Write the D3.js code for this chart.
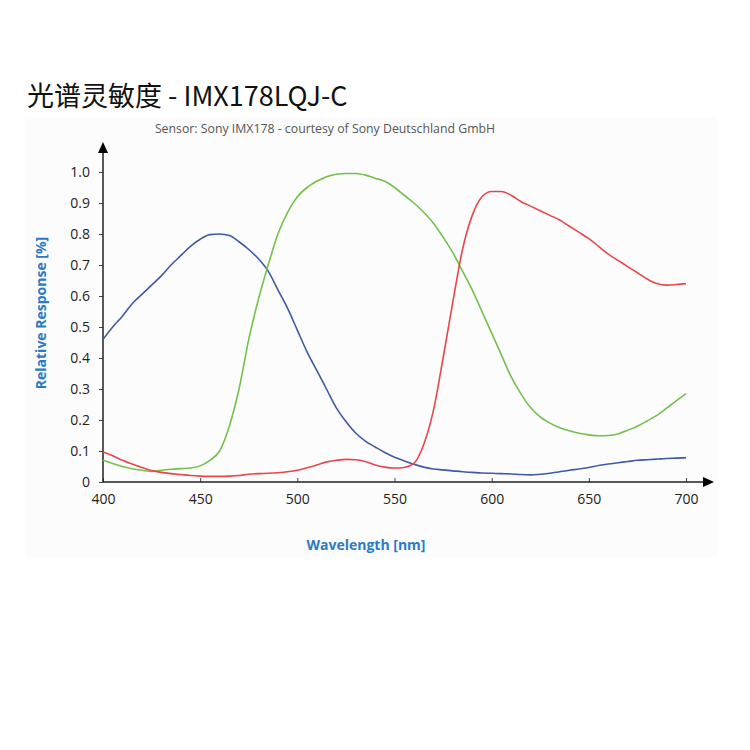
<!DOCTYPE html>
<html lang="zh">
<head>
    <meta charset="UTF-8">
    <script src="https://d3js.org/d3.v7.min.js"></script>
    <style>
        body { margin: 0; background: #fff; }
        svg { display: block; }
    </style>
</head>
<body>
    <svg width="750" height="750"></svg>
    <script>
        // wavelength samples (nm), 5 nm steps
        const wavelengths = d3.range(400, 701, 5);

        const blueValues = [
            0.46, 0.50, 0.535, 0.575, 0.605, 0.635, 0.665, 0.70, 0.73, 0.76,
            0.783, 0.798, 0.80, 0.795, 0.775, 0.75, 0.72, 0.68, 0.62, 0.56,
            0.49, 0.42, 0.36, 0.30, 0.24, 0.195, 0.158, 0.132, 0.113, 0.095,
            0.08, 0.068, 0.057, 0.048, 0.042, 0.039, 0.036, 0.033, 0.031, 0.029,
            0.028, 0.027, 0.026, 0.024, 0.023, 0.025, 0.028, 0.033, 0.038, 0.042,
            0.047, 0.053, 0.058, 0.062, 0.066, 0.07, 0.072, 0.074, 0.076, 0.077,
            0.078
        ];
        const greenValues = [
            0.07, 0.06, 0.05, 0.043, 0.038, 0.034, 0.038, 0.041, 0.043, 0.045,
            0.052, 0.07, 0.10, 0.18, 0.30, 0.46, 0.59, 0.70, 0.80, 0.87,
            0.92, 0.95, 0.97, 0.985, 0.993, 0.995, 0.995, 0.99, 0.98, 0.97,
            0.95, 0.925, 0.90, 0.87, 0.835, 0.79, 0.74, 0.68, 0.62, 0.55,
            0.48, 0.41, 0.34, 0.285, 0.24, 0.21, 0.19, 0.175, 0.165, 0.157,
            0.152, 0.149, 0.15, 0.155, 0.167, 0.18, 0.197, 0.215, 0.238, 0.262,
            0.285
        ];
        const redValues = [
            0.097, 0.085, 0.07, 0.058, 0.047, 0.037, 0.031, 0.027, 0.024, 0.021,
            0.019, 0.018, 0.018, 0.019, 0.021, 0.025, 0.027, 0.028, 0.03, 0.033,
            0.038, 0.046, 0.055, 0.065, 0.07, 0.073, 0.072, 0.066, 0.055, 0.048,
            0.045, 0.047, 0.06, 0.12, 0.23, 0.40, 0.58, 0.75, 0.86, 0.92,
            0.937, 0.937, 0.925, 0.905, 0.89, 0.875, 0.86, 0.845, 0.825, 0.805,
            0.785, 0.76, 0.735, 0.715, 0.695, 0.675, 0.655, 0.64, 0.635, 0.637,
            0.64
        ];

        const xTicks = [400, 450, 500, 550, 600, 650, 700];
        const yTicks = [0, 0.1, 0.2, 0.3, 0.4, 0.5, 0.6, 0.7, 0.8, 0.9, 1.0];

        const series = [
            { name: "blue", color: "#4059a8", values: blueValues },
            { name: "green", color: "#74c04b", values: greenValues },
            { name: "red", color: "#e8464a", values: redValues }
        ];

        const svg = d3.select("svg");

        // light panel behind the chart
        svg.append("rect")
            .attr("x", 25).attr("y", 117)
            .attr("width", 692).attr("height", 440)
            .attr("fill", "#fcfcfc");

        svg.append("text")
            .attr("x", 27).attr("y", 106)
            .attr("font-family", "'Noto Sans CJK SC', 'Noto Sans', sans-serif")
            .attr("font-size", 27)
            .attr("fill", "#111")
            .text("光谱灵敏度 - IMX178LQJ-C");

        svg.append("text")
            .attr("x", 325).attr("y", 133)
            .attr("text-anchor", "middle")
            .attr("font-family", "'Open Sans', sans-serif")
            .attr("font-size", 12.3)
            .attr("fill", "#555")
            .text("Sensor: Sony IMX178 - courtesy of Sony Deutschland GmbH");

        const x = d3.scaleLinear().domain([400, 700]).range([103, 686]);
        const y = d3.scaleLinear().domain([0, 1]).range([482, 172]);

        const xAxis = svg.append("g")
            .attr("transform", `translate(0,${y(0)})`)
            .call(d3.axisBottom(x).tickValues(xTicks).tickSizeInner(-4).tickSizeOuter(0).tickPadding(12));
        const yAxis = svg.append("g")
            .attr("transform", `translate(${x(400)},0)`)
            .call(d3.axisLeft(y).tickValues(yTicks).tickSizeOuter(0).tickSize(4).tickPadding(9)
                .tickFormat(d => d === 0 ? "0" : d3.format(".1f")(d)));

        [xAxis, yAxis].forEach(g => {
            g.select(".domain").remove();
            g.selectAll(".tick line").attr("stroke", "#444");
            g.selectAll(".tick text")
                .attr("font-family", "'Open Sans', sans-serif")
                .attr("font-size", 14)
                .attr("fill", "#222");
        });

        // axis lines with arrows
        svg.append("line")
            .attr("x1", x(400)).attr("y1", y(0))
            .attr("x2", 705).attr("y2", y(0))
            .attr("stroke", "#222").attr("stroke-width", 1.5);
        svg.append("path")
            .attr("d", `M703,${y(0) - 5}L714,${y(0)}L703,${y(0) + 5}Z`)
            .attr("fill", "#000");
        svg.append("line")
            .attr("x1", x(400)).attr("y1", y(0))
            .attr("x2", x(400)).attr("y2", 150)
            .attr("stroke", "#222").attr("stroke-width", 1.5);
        svg.append("path")
            .attr("d", `M${x(400) - 5},153L${x(400)},142L${x(400) + 5},153Z`)
            .attr("fill", "#000");

        const line = d3.line()
            .x((d, i) => x(wavelengths[i]))
            .y(d => y(d))
            .curve(d3.curveMonotoneX);

        svg.selectAll("path.curve")
            .data(series)
            .enter()
            .append("path")
            .attr("class", "curve")
            .attr("d", d => line(d.values))
            .attr("fill", "none")
            .attr("stroke", d => d.color)
            .attr("stroke-width", 1.6);

        svg.append("text")
            .attr("transform", "translate(46,313) rotate(-90)")
            .attr("text-anchor", "middle")
            .attr("font-family", "'Open Sans', sans-serif")
            .attr("font-weight", "bold")
            .attr("font-size", 14)
            .attr("fill", "#2b7bc4")
            .text("Relative Response [%]");

        svg.append("text")
            .attr("x", 366).attr("y", 550)
            .attr("text-anchor", "middle")
            .attr("font-family", "'Open Sans', sans-serif")
            .attr("font-weight", "bold")
            .attr("font-size", 14)
            .attr("fill", "#2b7bc4")
            .text("Wavelength [nm]");
    </script>
</body>
</html>
